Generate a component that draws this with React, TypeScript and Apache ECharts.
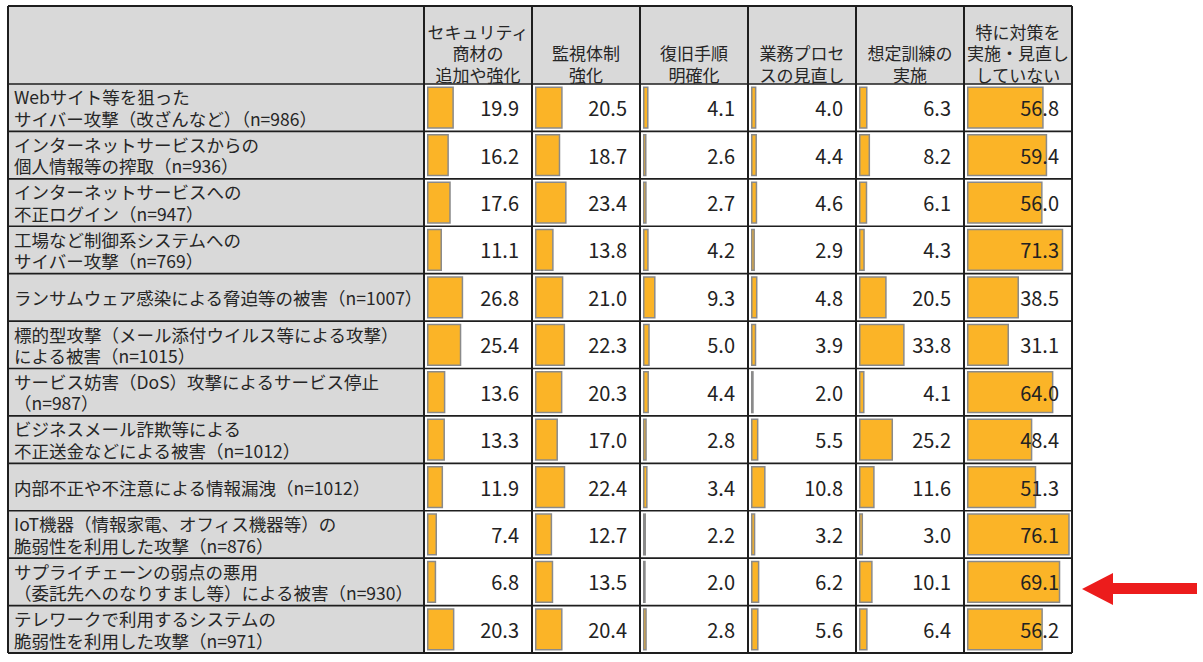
import React, { useEffect, useRef } from "react";
import * as echarts from "echarts";

const rowLabels: string[] = [
  "Webサイト等を狙った\nサイバー攻撃（改ざんなど）（n=986）",
  "インターネットサービスからの\n個人情報等の搾取（n=936）",
  "インターネットサービスへの\n不正ログイン（n=947）",
  "工場など制御系システムへの\nサイバー攻撃（n=769）",
  "ランサムウェア感染による脅迫等の被害（n=1007）",
  "標的型攻撃（メール添付ウイルス等による攻撃）\nによる被害（n=1015）",
  "サービス妨害（DoS）攻撃によるサービス停止\n（n=987）",
  "ビジネスメール詐欺等による\n不正送金などによる被害（n=1012）",
  "内部不正や不注意による情報漏洩（n=1012）",
  "IoT機器（情報家電、オフィス機器等）の\n脆弱性を利用した攻撃（n=876）",
  "サプライチェーンの弱点の悪用\n（委託先へのなりすまし等）による被害（n=930）",
  "テレワークで利用するシステムの\n脆弱性を利用した攻撃（n=971）",
];

const columnLabels: string[] = [
  "セキュリティ\n商材の\n追加や強化",
  "監視体制\n強化",
  "復旧手順\n明確化",
  "業務プロセ\nスの見直し",
  "想定訓練の\n実施",
  "特に対策を\n実施・見直し\nしていない",
];

const securityProducts: number[] = [19.9, 16.2, 17.6, 11.1, 26.8, 25.4, 13.6, 13.3, 11.9, 7.4, 6.8, 20.3];
const monitoring: number[] = [20.5, 18.7, 23.4, 13.8, 21.0, 22.3, 20.3, 17.0, 22.4, 12.7, 13.5, 20.4];
const recoveryProcedure: number[] = [4.1, 2.6, 2.7, 4.2, 9.3, 5.0, 4.4, 2.8, 3.4, 2.2, 2.0, 2.8];
const businessProcess: number[] = [4.0, 4.4, 4.6, 2.9, 4.8, 3.9, 2.0, 5.5, 10.8, 3.2, 6.2, 5.6];
const drills: number[] = [6.3, 8.2, 6.1, 4.3, 20.5, 33.8, 4.1, 25.2, 11.6, 3.0, 10.1, 6.4];
const noMeasures: number[] = [56.8, 59.4, 56.0, 71.3, 38.5, 31.1, 64.0, 48.4, 51.3, 76.1, 69.1, 56.2];

const columnValues: number[][] = [securityProducts, monitoring, recoveryProcedure, businessProcess, drills, noMeasures];

const FONT = '"Noto Sans CJK JP", "Noto Sans", sans-serif';

export default function App() {
  const ref = useRef<HTMLDivElement>(null);

  useEffect(() => {
    if (!ref.current) return;
    const chart = echarts.init(ref.current, undefined, { renderer: "svg" });

    const tableLeft = 8;
    const tableTop = 6;
    const headerBottom = 84;
    const tableBottom = 653;
    const labelColRight = 424;
    const colW = 108;
    const nCols = columnLabels.length;
    const tableRight = labelColRight + colW * nCols;
    const nRows = rowLabels.length;
    const rowH = (tableBottom - headerBottom) / nRows;
    const barPad = 3;
    const axisMax = (colW - barPad) / 1.35;

    const grids: any[] = [];
    const xAxes: any[] = [];
    const yAxes: any[] = [];
    const series: any[] = [];

    columnValues.forEach((vals, i) => {
      const cellLeft = labelColRight + colW * i;
      grids.push({
        left: cellLeft + barPad,
        top: headerBottom,
        width: colW - barPad,
        height: tableBottom - headerBottom,
        containLabel: false,
      });
      xAxes.push({
        type: "value",
        gridIndex: i,
        min: 0,
        max: axisMax,
        show: false,
      });
      yAxes.push({
        type: "category",
        gridIndex: i,
        data: rowLabels,
        inverse: true,
        axisLine: { show: false },
        axisTick: { show: false },
        splitLine: { show: false },
        axisLabel:
          i === 0
            ? {
                show: true,
                align: "left",
                margin: cellLeft + barPad - 14,
                fontFamily: FONT,
                fontSize: 17.5,
                lineHeight: 21.5,
                color: "#262626",
              }
            : { show: false },
      });
      yAxes.push({
        type: "category",
        gridIndex: i,
        position: "right",
        data: vals.map((v) => v.toFixed(1)),
        inverse: true,
        z: 10,
        axisLine: { show: false },
        axisTick: { show: false },
        splitLine: { show: false },
        axisLabel: {
          show: true,
          inside: true,
          margin: 13,
          fontFamily: FONT,
          fontSize: 20,
          color: "#222222",
        },
      });
      series.push({
        type: "bar",
        xAxisIndex: i,
        yAxisIndex: i * 2,
        data: vals,
        barCategoryGap: "11%",
        itemStyle: {
          color: "#FBB427",
          borderColor: "#8A8A8A",
          borderWidth: 1.5,
        },
        z: 2,
      });
    });

    const graphics: any[] = [];
    graphics.push({
      type: "rect",
      z: -10,
      shape: { x: tableLeft, y: tableTop, width: tableRight - tableLeft, height: headerBottom - tableTop },
      style: { fill: "#D9D9D9" },
    });
    graphics.push({
      type: "rect",
      z: -10,
      shape: { x: tableLeft, y: headerBottom, width: labelColRight - tableLeft, height: tableBottom - headerBottom },
      style: { fill: "#D9D9D9" },
    });
    const hy: number[] = [tableTop, headerBottom];
    for (let r = 1; r <= nRows; r++) hy.push(headerBottom + rowH * r);
    hy.forEach((y, idx) => {
      graphics.push({
        type: "line",
        z: 20,
        shape: { x1: tableLeft, y1: y, x2: tableRight, y2: y },
        style: { stroke: "#1E1E1E", lineWidth: idx === 0 || idx === hy.length - 1 ? 2 : 1.6 },
      });
    });
    const vx: number[] = [tableLeft, labelColRight];
    for (let c = 1; c <= nCols; c++) vx.push(labelColRight + colW * c);
    vx.forEach((x) => {
      graphics.push({
        type: "line",
        z: 20,
        shape: { x1: x, y1: tableTop, x2: x, y2: tableBottom },
        style: { stroke: "#1E1E1E", lineWidth: 2 },
      });
    });
    columnLabels.forEach((t, i) => {
      graphics.push({
        type: "text",
        z: 20,
        style: {
          text: t,
          x: labelColRight + colW * i + colW / 2,
          y: headerBottom + 1,
          align: "center",
          verticalAlign: "bottom",
          fontFamily: FONT,
          fontSize: 17,
          lineHeight: 21.5,
          fill: "#262626",
        },
      });
    });
    graphics.push({
      type: "polygon",
      z: 20,
      shape: {
        points: [
          [1082, 589],
          [1113, 573],
          [1113, 583],
          [1197, 583],
          [1197, 594],
          [1113, 594],
          [1113, 605],
        ],
      },
      style: { fill: "#EC1C1C" },
    });

    chart.setOption({
      animation: false,
      backgroundColor: "#FFFFFF",
      grid: grids,
      xAxis: xAxes,
      yAxis: yAxes,
      series,
      graphic: graphics,
    });

    return () => chart.dispose();
  }, []);

  return (
    <div
      ref={ref}
      style={{ position: "absolute", left: 0, top: 0, width: 1203, height: 662 }}
    />
  );
}
